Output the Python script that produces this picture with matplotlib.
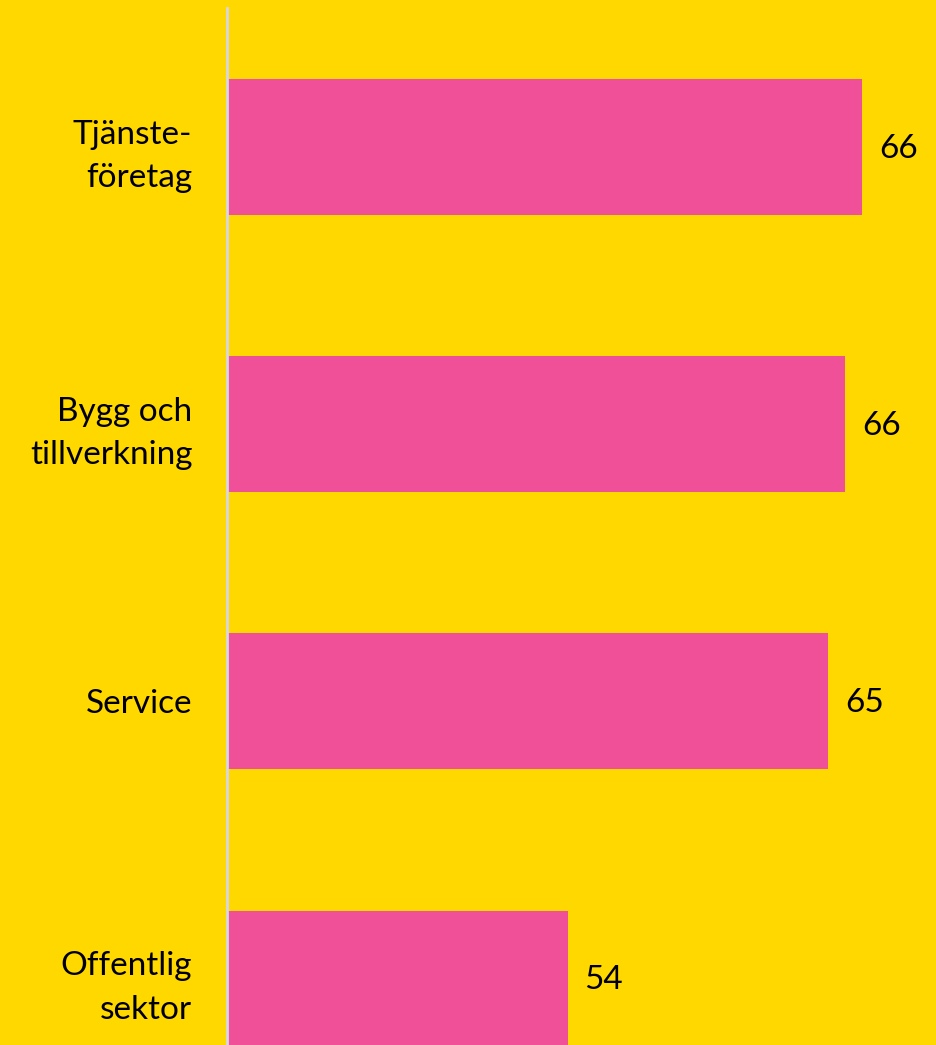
import matplotlib
matplotlib.use("Agg")
from matplotlib import pyplot as plt

# data (bars are drawn from a baseline of 40)
categories = ["Tjänste-\nföretag", "Bygg och\ntillverkning", "Service", "Offentlig\nsektor"]
values = [66.3, 65.6, 64.9, 54.1]
value_labels = ["66", "66", "65", "54"]

YELLOW = "#FFD800"
PINK = "#F05098"

plt.rcParams['font.family'] = ['Lato', 'DejaVu Sans']

fig = plt.figure(figsize=(9.37, 10.45), dpi=100, facecolor=YELLOW)
# axes from x=227 to right edge, y=8 down to bottom edge
ax = fig.add_axes([227 / 937, 0, 1 - 227 / 937, (1045 - 8) / 1045])
ax.set_facecolor(YELLOW)

base = 40
ypos = list(range(len(categories)))
ax.barh(ypos, [v - base for v in values], left=base, height=0.49, color=PINK)

ax.set_xlim(base, 69.4)
ax.set_ylim(3.24, -0.5)

for y, v, lab in zip(ypos, values, value_labels):
    ax.annotate(lab, (v, y), xytext=(17, -2), textcoords="offset pixels",
                ha="left", va="center", fontsize=24, color="black")

ax.set_yticks(ypos)
ax.set_yticklabels(categories, fontsize=24, linespacing=1.55)
ax.tick_params(axis="y", length=0, pad=25)
ax.set_xticks([])
for s in ["top", "right", "bottom"]:
    ax.spines[s].set_visible(False)
ax.spines["left"].set_color("#D6D6E4")
ax.spines["left"].set_linewidth(2)
for lbl in ax.get_yticklabels():
    lbl.set_horizontalalignment("right")

fig.savefig("out.png", dpi=100, facecolor=YELLOW)
